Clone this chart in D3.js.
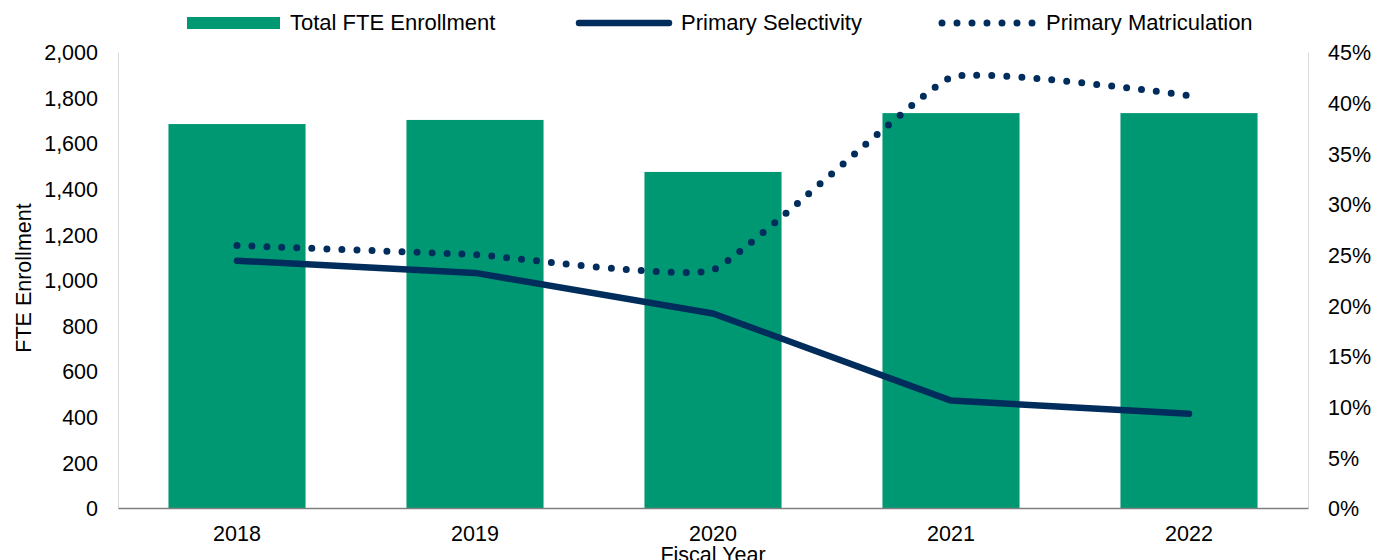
<!DOCTYPE html>
<html>
<head>
<meta charset="utf-8">
<script src="https://d3js.org/d3.v7.min.js"></script>
<style>
  body { margin: 0; background: #fff; }
  svg text { font-family: "Liberation Sans", Arial, sans-serif; fill: #000; }
</style>
</head>
<body>
<svg id="chart" width="1374" height="560"></svg>
<script>
  const years = ["2018", "2019", "2020", "2021", "2022"]
  const enrollment = [1684, 1702, 1474, 1732, 1732]
  const selectivity = [24.4, 23.2, 19.2, 10.6, 9.3]
  const matriculation = [25.9, 25.0, 23.5, 42.5, 40.7]
  const leftTicks = [0, 200, 400, 600, 800, 1000, 1200, 1400, 1600, 1800, 2000]
  const rightTicks = [0, 5, 10, 15, 20, 25, 30, 35, 40, 45]

  const green = "#009873"
  const navy = "#002d5c"
  const fs = "21.5px"
  const svg = d3.select("#chart")
  const margin = {top: 52, right: 66, bottom: 52, left: 118}
  const width = 1374 - margin.left - margin.right
  const height = 560 - margin.top - margin.bottom

  const x = d3.scaleBand().domain(years).range([0, width]).paddingInner(0.424).paddingOuter(0.212)
  const y = d3.scaleLinear().domain([0, 2000]).range([height, 0])
  const y2 = d3.scaleLinear().domain([0, 45]).range([height, 0])

  const g = svg.append("g").attr("transform", "translate(" + margin.left + "," + margin.top + ")")

  // bars
  g.selectAll(".bar")
    .data(enrollment).enter()
    .append("rect")
    .attr("x", (d, i) => x(years[i]))
    .attr("y", d => y(d))
    .attr("width", x.bandwidth())
    .attr("height", d => height - y(d))
    .attr("fill", green)

  // axes
  const left = g.append("g")
    .call(d3.axisLeft(y).tickValues(leftTicks).tickFormat(d3.format(",")).tickSize(0).tickPadding(20))
  const right = g.append("g").attr("transform", "translate(" + width + ",0)")
    .call(d3.axisRight(y2).tickValues(rightTicks).tickFormat(d => d + "%").tickSize(0).tickPadding(20))
  const bottom = g.append("g").attr("transform", "translate(0," + height + ")")
    .call(d3.axisBottom(x).tickSize(0).tickPadding(18))
  left.select(".domain").attr("stroke", "#d9d9d9")
  right.select(".domain").attr("stroke", "#d9d9d9")
  bottom.select(".domain").attr("stroke", "#7f7f7f").attr("stroke-width", 1.5)
  svg.selectAll(".tick text").style("font-size", fs).style("font-family", "'Liberation Sans', Arial, sans-serif")
  left.selectAll(".tick text").attr("dy", "0.36em")
  right.selectAll(".tick text").attr("dy", "0.36em")

  // lines
  const cx = i => x(years[i]) + x.bandwidth() / 2
  const selLine = d3.line().x((d, i) => cx(i)).y(d => y2(d))
  const matLine = d3.line().x((d, i) => cx(i)).y(d => y2(d)).curve(d3.curveCardinal.tension(0.65))

  g.append("path")
    .datum(selectivity)
    .attr("d", selLine)
    .attr("fill", "none")
    .attr("stroke", navy)
    .attr("stroke-width", 6.5)
    .attr("stroke-linecap", "round")
    .attr("stroke-linejoin", "round")

  g.append("path")
    .datum(matriculation)
    .attr("d", matLine)
    .attr("fill", "none")
    .attr("stroke", navy)
    .attr("stroke-width", 7)
    .attr("stroke-linecap", "round")
    .attr("stroke-dasharray", "0 15")

  // axis titles
  svg.append("text")
    .attr("transform", "translate(31,278) rotate(-90)")
    .attr("text-anchor", "middle")
    .style("font-size", fs)
    .text("FTE Enrollment")
  svg.append("text")
    .attr("x", margin.left + width / 2)
    .attr("y", 562)
    .attr("text-anchor", "middle")
    .style("font-size", fs)
    .text("Fiscal Year")

  // legend
  const lg = svg.append("g")
  lg.append("rect").attr("x", 187).attr("y", 17).attr("width", 93).attr("height", 12).attr("fill", green)
  lg.append("text").attr("x", 290).attr("y", 30).style("font-size", "22px").text("Total FTE Enrollment")
  lg.append("line").attr("x1", 579).attr("x2", 669).attr("y1", 23).attr("y2", 23)
    .attr("stroke", navy).attr("stroke-width", 6.5).attr("stroke-linecap", "round")
  lg.append("text").attr("x", 681).attr("y", 30).style("font-size", "22px").text("Primary Selectivity")
  lg.append("line").attr("x1", 942).attr("x2", 1033).attr("y1", 23).attr("y2", 23)
    .attr("stroke", navy).attr("stroke-width", 7).attr("stroke-linecap", "round").attr("stroke-dasharray", "0 15")
  lg.append("text").attr("x", 1046).attr("y", 30).style("font-size", "22px").text("Primary Matriculation")
</script>
</body>
</html>
